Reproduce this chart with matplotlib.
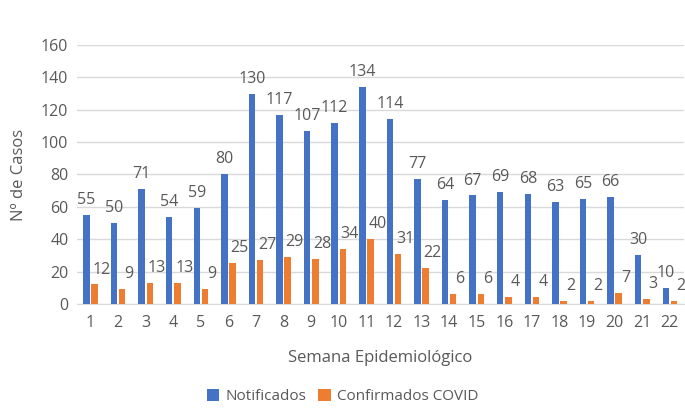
import matplotlib.pyplot as plt
import numpy as np

semanas = [str(i) for i in range(1, 23)]
notificados = [55, 50, 71, 54, 59, 80, 130, 117, 107, 112, 134, 114, 77, 64, 67, 69, 68, 63, 65, 66, 30, 10]
confirmados = [12, 9, 13, 13, 9, 25, 27, 29, 28, 34, 40, 31, 22, 6, 6, 4, 4, 2, 2, 7, 3, 2]

grey = '#595959'
plt.rcParams['font.family'] = ['Open Sans', 'DejaVu Sans']

fig = plt.figure(figsize=(6.85, 4.09), dpi=100)
ax = fig.add_axes([0.112, 0.257, 0.886, 0.633])

x = np.arange(len(semanas))
w = 0.235
gap = 0.06
x1 = x - (w + gap) / 2
x2 = x + (w + gap) / 2
ax.bar(x1, notificados, w, color='#4472C4', label='Notificados', zorder=3)
ax.bar(x2, confirmados, w, color='#ED7D31', label='Confirmados COVID', zorder=3)

# etiquetas de dados (laranja um pouco deslocada p/ direita, como no Excel)
for xi, v in zip(x1, notificados):
    ax.annotate(str(v), (xi, v), xytext=(0, 5), textcoords='offset points',
                ha='center', va='bottom', fontsize=11.5, color=grey)
for xi, v in zip(x2, confirmados):
    ax.annotate(str(v), (xi, v), xytext=(5, 5), textcoords='offset points',
                ha='center', va='bottom', fontsize=11.5, color=grey)

ax.set_xlim(-0.5, len(semanas) - 0.5)
ax.set_ylim(0, 160)
ax.set_yticks(range(0, 161, 20))
ax.set_xticks(x)
ax.set_xticklabels(semanas)
ax.tick_params(axis='both', length=0, labelsize=11.5, colors=grey)
ax.tick_params(axis='x', pad=8)
ax.tick_params(axis='y', pad=6)
ax.grid(axis='y', color='#d9d9d9', linewidth=1, zorder=0)
for s in ['top', 'right', 'left']:
    ax.spines[s].set_visible(False)
ax.spines['bottom'].set_color('#d9d9d9')

ax.set_xlabel('Semana Epidemiológico', fontsize=12, color=grey, labelpad=14)
ax.set_ylabel('Nº de Casos', fontsize=12, color=grey, labelpad=10)

fig.legend(loc='center', bbox_to_anchor=(0.5, 0.03), ncol=2, frameon=False,
           fontsize=11, labelcolor=grey, handlelength=0.8, handleheight=0.8,
           columnspacing=0.8, handletextpad=0.4)

fig.savefig('out.png', dpi=100)
